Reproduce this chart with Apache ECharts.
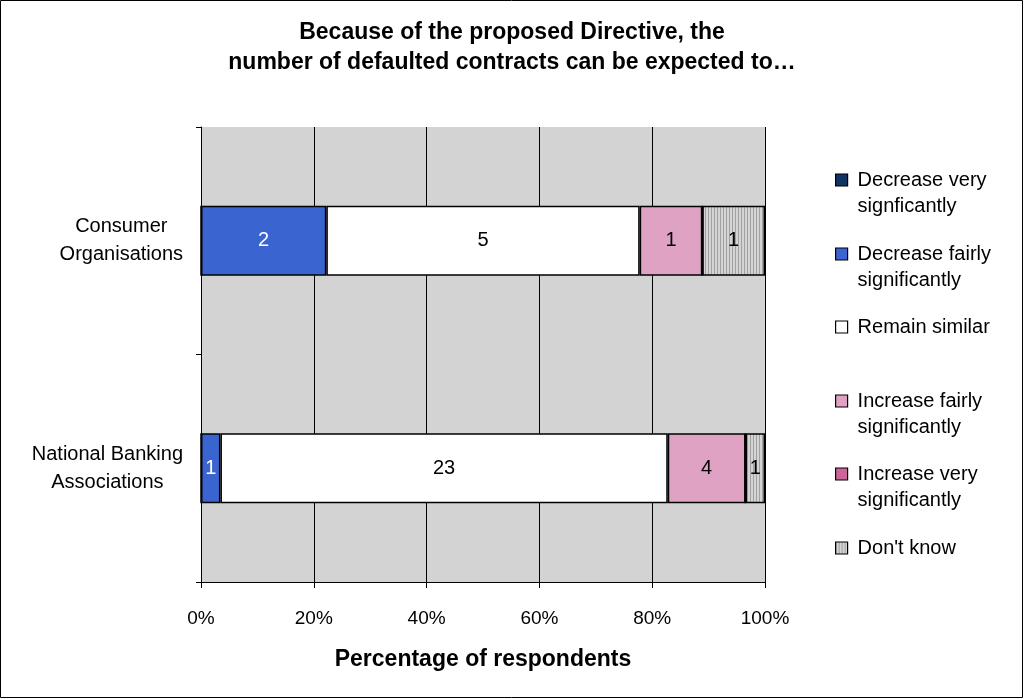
<!DOCTYPE html>
<html>
<head>
<meta charset="utf-8">
<script src="https://cdn.jsdelivr.net/npm/echarts@6/dist/echarts.min.js"></script>
<style>
html,body{margin:0;padding:0;background:#fff;}
#chart{width:1024px;height:699px;}
</style>
</head>
<body>
<div id="chart"></div>
<script>
// ---- data ----
var categories = ['Consumer Organisations', 'National Banking Associations'];
var categoryLabels = [['Consumer', 'Organisations'], ['National Banking', 'Associations']];
var seriesNames = [
  'Decrease very\nsignficantly',
  'Decrease fairly\nsignificantly',
  'Remain similar',
  'Increase fairly\nsignificantly',
  'Increase very\nsignificantly',
  "Don't know"
];
var decreaseVery   = [0, 0];
var decreaseFairly = [2, 1];
var remainSimilar  = [5, 23];
var increaseFairly = [1, 4];
var increaseVery   = [0, 0];
var dontKnow       = [1, 1];
var xTickLabels = ['0%', '20%', '40%', '60%', '80%', '100%'];

var counts = [decreaseVery, decreaseFairly, remainSimilar, increaseFairly, increaseVery, dontKnow];
var totals = categories.map(function (c, i) {
  var s = 0; counts.forEach(function (a) { s += a[i]; }); return s;
});

// striped pattern for "Don't know"
var pc = document.createElement('canvas');
pc.width = 3; pc.height = 3;
var pctx = pc.getContext('2d');
pctx.fillStyle = '#d4d4d4'; pctx.fillRect(0, 0, 3, 3);
pctx.fillStyle = '#a0a0a0'; pctx.fillRect(0, 0, 1, 3);
var stripe = { image: pc, repeat: 'repeat' };

var colors = ['#0f3563', '#3a65d0', '#ffffff', '#e0a2c2', '#cc6699', stripe];
var labelColors = ['#fff', '#fff', '#000', '#000', '#000', '#000'];

var FONT = 'Liberation Sans, Arial, sans-serif';

var series = counts.map(function (arr, k) {
  return {
    name: seriesNames[k],
    type: 'bar',
    stack: 'total',
    barWidth: 70,
    data: arr.map(function (v, i) { return { value: v / totals[i] * 100, count: v }; }),
    itemStyle: { color: colors[k], borderColor: '#000', borderWidth: 1.5 },
    label: {
      show: true, position: 'inside',
      color: labelColors[k], fontSize: 20, fontFamily: FONT,
      formatter: function (p) { return p.data.count ? String(p.data.count) : ''; }
    },
    emphasis: { disabled: true }
  };
});

// legends, one per entry, icon aligned with the first text line
var legendIconY = [180, 254, 327, 401, 474, 548];
var legends = seriesNames.map(function (n, k) {
  var twoLine = n.indexOf('\n') >= 0;
  return {
    data: [{ name: n, icon: 'rect' }],
    orient: 'vertical',
    left: 835,
    top: twoLine ? legendIconY[k] - 39 : legendIconY[k] - 13,
    padding: 0,
    itemWidth: 12, itemHeight: 12,
    selectedMode: false,
    formatter: function (name) { return twoLine ? '\n' + name : name; },
    itemStyle: { borderColor: '#000', borderWidth: 1.2 },
    textStyle: {
      fontSize: 20, fontFamily: FONT, color: '#000', lineHeight: 26,
      padding: [0, 0, 0, 5]
    }
  };
});

var chart = echarts.init(document.getElementById('chart'), null, { renderer: 'canvas' });
chart.setOption({
  animation: false,
  color: colors,
  title: {
    text: 'Because of the proposed Directive, the\nnumber of defaulted contracts can be expected to\u2026',
    left: 'center',
    top: 18,
    padding: 0,
    textStyle: { fontSize: 23, fontWeight: 'bold', fontFamily: FONT, color: '#000', lineHeight: 30 }
  },
  legend: legends,
  grid: {
    left: 201, right: 259, top: 127, bottom: 117,
    show: true, backgroundColor: '#d3d3d3', borderWidth: 0
  },
  xAxis: {
    type: 'value', min: 0, max: 100, interval: 20,
    name: 'Percentage of respondents',
    nameLocation: 'middle', nameGap: 66,
    nameTextStyle: { fontSize: 23, fontWeight: 'bold', fontFamily: FONT, color: '#000' },
    axisLine: { show: true, lineStyle: { color: '#000', width: 1 } },
    axisTick: { show: true, length: 6, lineStyle: { color: '#000' } },
    axisLabel: {
      margin: 27, fontSize: 19, fontFamily: FONT, color: '#000',
      formatter: function (v) { return xTickLabels[Math.round(v / 20)]; }
    },
    splitLine: { show: true, lineStyle: { color: '#000', width: 1 } }
  },
  yAxis: {
    type: 'category', inverse: true, data: categories,
    axisLine: { show: true, lineStyle: { color: '#000', width: 1 } },
    axisTick: { show: true, length: 5, lineStyle: { color: '#000' } },
    axisLabel: {
      margin: 18, fontFamily: FONT, fontSize: 20, color: '#000', lineHeight: 28,
      formatter: function (v, i) {
        return categoryLabels[i].map(function (s) { return '{c|' + s + '}'; }).join('\n');
      },
      rich: { c: { align: 'center', fontSize: 20, fontFamily: FONT, color: '#000', lineHeight: 28 } }
    }
  },
  series: series,
  graphic: [{
    type: 'rect', silent: true, z: 100,
    shape: { x: 0.5, y: 0.5, width: 1022, height: 697 },
    style: { fill: 'none', stroke: '#000', lineWidth: 1 }
  }]
});
</script>
</body>
</html>
